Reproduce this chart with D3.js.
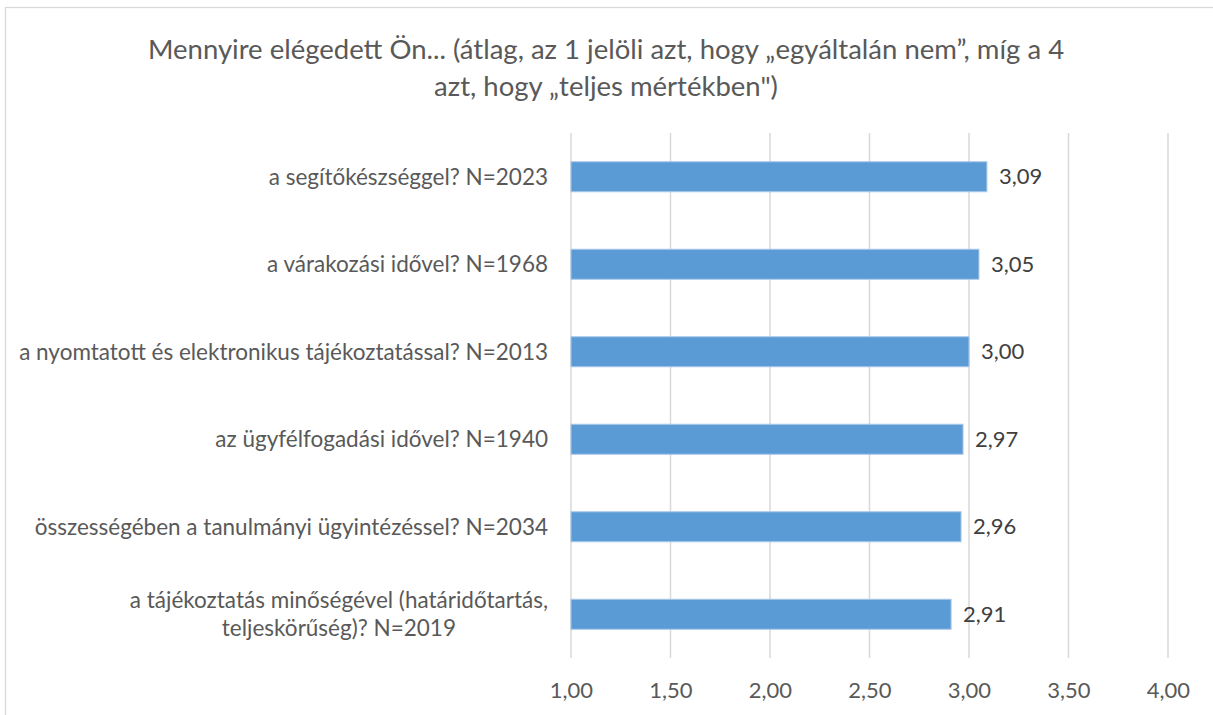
<!DOCTYPE html>
<html lang="hu">
<head>
    <meta charset="UTF-8">
    <title>Elégedettség</title>
    <script src="https://d3js.org/d3.v7.min.js"></script>
    <style>
        body { margin: 0; background: #fff; }
        svg text { font-family: Lato, Carlito, Calibri, sans-serif; }
    </style>
</head>
<body>
    <div id="chart"></div>

    <script>
        // chart data
        var titleLines = [
            "Mennyire elégedett Ön... (átlag, az 1 jelöli azt, hogy „egyáltalán nem”, míg a 4",
            "azt, hogy „teljes mértékben\")"
        ];
        var categories = [
            ["a segítőkészséggel? N=2023"],
            ["a várakozási idővel? N=1968"],
            ["a nyomtatott és elektronikus tájékoztatással? N=2013"],
            ["az ügyfélfogadási idővel? N=1940"],
            ["összességében a tanulmányi ügyintézéssel? N=2034"],
            ["a tájékoztatás minőségével (határidőtartás,", "teljeskörűség)? N=2019"]
        ];
        var values = [3.09, 3.05, 3.00, 2.97, 2.96, 2.91];
        var xTicks = [1.00, 1.50, 2.00, 2.50, 3.00, 3.50, 4.00];

        var width = 1213, height = 715;
        var margin = { top: 133, right: 45, bottom: 57, left: 571 };
        var labelEdge = 548;

        var fmt = function(v) { return d3.format(".2f")(v).replace(".", ","); };

        var svg = d3.select("#chart")
                    .append("svg")
                    .attr("width", width)
                    .attr("height", height);

        // outer frame of the chart area
        svg.append("rect")
            .attr("x", 5.5)
            .attr("y", 7.5)
            .attr("width", 1240)
            .attr("height", 740)
            .attr("fill", "none")
            .attr("stroke", "#d9d9d9")
            .attr("stroke-width", 1.3);

        // title
        svg.append("g")
            .selectAll("text")
            .data(titleLines)
            .enter().append("text")
            .attr("x", 606)
            .attr("y", function(d, i) { return 59 + i * 37; })
            .attr("text-anchor", "middle")
            .attr("font-size", "27.5px")
            .attr("fill", "#595959")
            .text(function(d) { return d; });

        var x = d3.scaleLinear()
                  .domain([1, 4])
                  .range([margin.left, width - margin.right]);

        var y = d3.scaleBand()
                  .domain(d3.range(categories.length))
                  .range([margin.top, height - margin.bottom])
                  .paddingInner(0.657)
                  .paddingOuter(0.3285);

        // vertical gridlines
        svg.append("g")
            .selectAll("line")
            .data(xTicks)
            .enter().append("line")
            .attr("x1", function(d) { return x(d); })
            .attr("x2", function(d) { return x(d); })
            .attr("y1", margin.top)
            .attr("y2", height - margin.bottom)
            .attr("stroke", "#d9d9d9")
            .attr("stroke-width", 1.5);

        // x axis labels
        var xAxis = d3.axisBottom(x)
                      .tickValues(xTicks)
                      .tickSize(0)
                      .tickPadding(0)
                      .tickFormat(fmt);

        var gx = svg.append("g")
            .attr("transform", "translate(0," + (height - margin.bottom) + ")")
            .call(xAxis);
        gx.select(".domain").remove();
        gx.selectAll("text")
            .attr("y", 40)
            .attr("dy", null)
            .attr("font-size", "22px")
            .attr("font-family", "Lato, Carlito, Calibri, sans-serif")
            .attr("fill", "#595959");

        // bars
        svg.append("g")
            .selectAll("rect")
            .data(values)
            .enter().append("rect")
            .attr("x", x(1))
            .attr("y", function(d, i) { return y(i); })
            .attr("width", function(d) { return x(d) - x(1); })
            .attr("height", y.bandwidth())
            .attr("fill", "#5b9bd5")
            .attr("stroke", "#a9c8ea")
            .attr("stroke-width", 1);

        // value labels
        svg.append("g")
            .selectAll("text")
            .data(values)
            .enter().append("text")
            .attr("x", function(d) { return x(d) + 12; })
            .attr("y", function(d, i) { return y(i) + y.bandwidth() / 2; })
            .attr("dy", "0.35em")
            .attr("font-size", "22px")
            .attr("fill", "#404040")
            .text(fmt);

        // category labels (multi-line ones centred on each other)
        var cat = svg.append("g")
            .selectAll("text")
            .data(categories)
            .enter().append("text")
            .attr("font-size", "22.5px")
            .attr("fill", "#595959")
            .attr("text-anchor", "end");

        cat.each(function(lines, i) {
            var t = d3.select(this);
            var cy = y(i) + y.bandwidth() / 2;
            var lh = 28;
            var y0 = cy - (lines.length - 1) * lh / 2;
            if (lines.length === 1) {
                t.append("tspan")
                    .attr("x", labelEdge)
                    .attr("y", y0)
                    .attr("dy", "0.35em")
                    .text(lines[0]);
            } else {
                t.attr("text-anchor", "middle");
                var spans = lines.map(function(line, j) {
                    return t.append("tspan")
                        .attr("x", 0)
                        .attr("y", y0 + j * lh)
                        .attr("dy", "0.35em")
                        .text(line);
                });
                // centre the block so its widest line ends at the label edge
                var w = d3.max(spans, function(s) { return s.node().getComputedTextLength(); });
                spans.forEach(function(s) { s.attr("x", labelEdge - w / 2); });
            }
        });
    </script>
</body>
</html>
